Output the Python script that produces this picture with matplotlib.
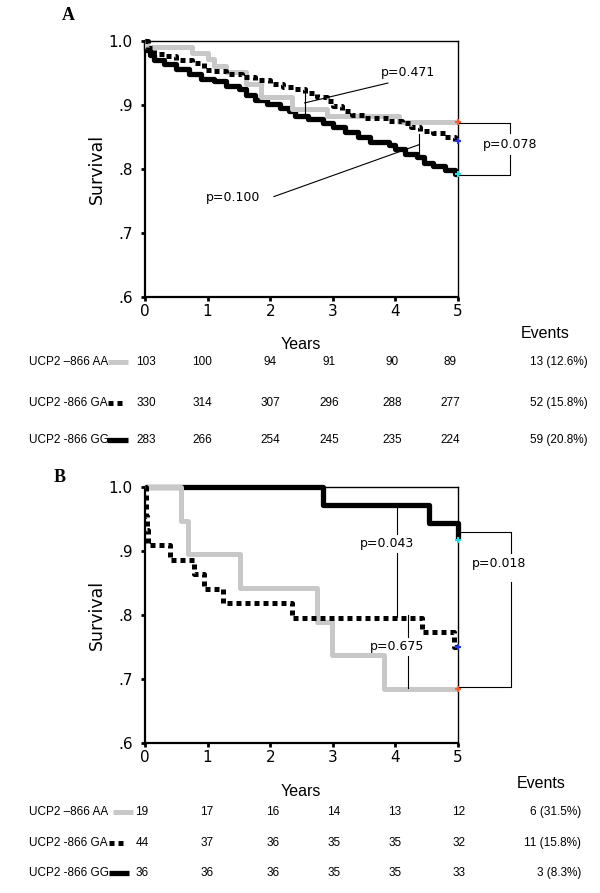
import matplotlib.pyplot as plt
from matplotlib.lines import Line2D

# ---- data ----
years = [0, 1, 2, 3, 4, 5]
groups = ['UCP2 \u2013866 AA', 'UCP2 -866 GA', 'UCP2 -866 GG']

# panel A: Kaplan-Meier steps (time in years, survival)
a_aa_t = [0, 0.03, 0.75, 1.0, 1.1, 1.3, 1.62, 1.86, 2.35, 2.9, 4.05, 5.0]
a_aa_s = [1.0, 0.990, 0.981, 0.971, 0.961, 0.951, 0.932, 0.912, 0.893, 0.883, 0.874, 0.874]
a_ga_t = [0, 0.05, 0.15, 0.3, 0.5, 0.75, 0.95, 1.05, 1.3, 1.55, 1.75, 2.0, 2.2, 2.4, 2.55,
          2.75, 2.9, 3.0, 3.15, 3.3, 3.5, 3.9, 4.1, 4.25, 4.4, 4.6, 4.8, 4.95, 5.0]
a_ga_s = [1.0, 0.988, 0.980, 0.976, 0.970, 0.965, 0.955, 0.952, 0.948, 0.943, 0.939, 0.933, 0.928,
          0.924, 0.918, 0.912, 0.906, 0.898, 0.890, 0.884, 0.879, 0.875, 0.872, 0.866, 0.860,
          0.856, 0.850, 0.843, 0.843]
a_gg_t = [0, 0.02, 0.08, 0.15, 0.3, 0.5, 0.7, 0.9, 1.1, 1.3, 1.5, 1.62, 1.75, 1.95, 2.15, 2.3,
          2.4, 2.6, 2.85, 3.0, 3.2, 3.4, 3.6, 3.9, 4.0, 4.15, 4.35, 4.45, 4.6, 4.8, 4.95, 5.0]
a_gg_s = [1.0, 0.986, 0.978, 0.970, 0.963, 0.956, 0.948, 0.941, 0.937, 0.930, 0.925, 0.915,
          0.908, 0.902, 0.895, 0.890, 0.882, 0.878, 0.872, 0.866, 0.858, 0.850, 0.842, 0.838,
          0.831, 0.824, 0.818, 0.810, 0.804, 0.798, 0.792, 0.792]
a_risk = [[103, 100, 94, 91, 90, 89],
          [330, 314, 307, 296, 288, 277],
          [283, 266, 254, 245, 235, 224]]
a_events = ['13 (12.6%)', '52 (15.8%)', '59 (20.8%)']

# panel B
b_aa_t = [0, 0.58, 0.68, 1.52, 2.74, 2.99, 3.81, 5.0]
b_aa_s = [1.0, 0.947, 0.895, 0.842, 0.789, 0.737, 0.684, 0.684]
b_ga_t = [0, 0.01, 0.02, 0.03, 0.05, 0.4, 0.79, 0.95, 1.25, 2.35, 4.42, 4.94, 5.0]
b_ga_s = [1.0, 0.977, 0.955, 0.932, 0.909, 0.886, 0.864, 0.841, 0.818, 0.795, 0.773, 0.750, 0.750]
b_gg_t = [0, 2.84, 4.53, 5.0]
b_gg_s = [1.0, 0.972, 0.944, 0.917]
b_risk = [[19, 17, 16, 14, 13, 12],
          [44, 37, 36, 35, 35, 32],
          [36, 36, 36, 35, 35, 33]]
b_events = ['6 (31.5%)', '11 (15.8%)', '3 (8.3%)']

W, H = 600, 893
fig = plt.figure(figsize=(W / 100, H / 100), dpi=100)


def fx(px):
    return px / W


def fy(py):
    return 1 - py / H


GRAY = '#c8c8c8'
styles = [dict(color=GRAY, lw=3.6, solid_capstyle='butt'),
          dict(color='black', lw=3.6, linestyle=(0, (1.0, 0.8)), dash_capstyle='butt'),
          dict(color='black', lw=3.8, solid_capstyle='butt')]
cens_colors = ['#ff5a28', '#2233ff', '#22dddd']


def panel(top_px, curves, letter, letter_xy):
    ax = fig.add_axes([fx(145), fy(top_px + 256.6), fx(313), 256.6 / H])
    ax.set_xlim(0, 5)
    ax.set_ylim(0.6, 1.0)
    # draw order: GG under AA under GA
    for i in [2, 0, 1]:
        t, s = curves[i]
        ax.plot(t, s, drawstyle='steps-post', clip_on=False, zorder=3, **styles[i])
        ax.plot([5], [s[-1]], marker='+', ms=4, mew=1.5, color=cens_colors[i],
                clip_on=False, zorder=5)
    ax.set_xticks(years)
    ax.set_yticks([0.6, 0.7, 0.8, 0.9, 1.0])
    ax.set_yticklabels(['.6', '.7', '.8', '.9', '1.0'])
    ax.tick_params(direction='out', length=3, width=2, labelsize=11, pad=2)
    ax.tick_params(axis='y', pad=6)
    for sp in ['left', 'bottom']:
        ax.spines[sp].set_linewidth(1.6)
    for sp in ['top', 'right']:
        ax.spines[sp].set_linewidth(1.0)
    ax.set_ylabel('Survival', fontsize=12.5, labelpad=2)
    fig.text(fx(letter_xy[0]), fy(letter_xy[1]), letter, fontsize=13, fontweight='bold',
             family='Liberation Serif', ha='center', va='center')
    return ax


def seg(ax, xs, ys):
    ax.plot(xs, ys, color='black', lw=0.8, clip_on=False, zorder=4)


def table(rows_y, col_x, ev_right, risk, events, years_xy, events_xy, sw):
    tk = dict(family='Liberation Sans', fontsize=8.5, va='center')
    fig.text(fx(years_xy[0]), fy(years_xy[1]), 'Years', family='Liberation Sans',
             fontsize=11.5, ha='center', va='center')
    fig.text(fx(events_xy[0]), fy(events_xy[1]), 'Events', family='Liberation Sans',
             fontsize=11.5, ha='center', va='center')
    for i, y in enumerate(rows_y):
        fig.text(fx(29), fy(y), groups[i], ha='left', **tk)
        x0, x1 = sw[i]
        st = dict(styles[i])
        fig.add_artist(Line2D([fx(x0), fx(x1)], [fy(y), fy(y)], transform=fig.transFigure, **st))
        for j, v in enumerate(risk[i]):
            fig.text(fx(col_x[j]), fy(y), str(v), ha='center', **tk)
        fig.text(fx(ev_right), fy(y), events[i], ha='right', **tk)


# ---- panel A ----
axa = panel(40.7, [(a_aa_t, a_aa_s), (a_ga_t, a_ga_s), (a_gg_t, a_gg_s)], 'A', (68, 15))
tx = dict(fontsize=9, ha='center', va='center', family='DejaVu Sans')
axa.text(4.2, 0.951, 'p=0.471', **tx)
seg(axa, [2.55, 2.55], [0.92, 0.887])
seg(axa, [2.55, 3.88], [0.903, 0.934])
axa.text(1.41, 0.755, 'p=0.100', **tx)
seg(axa, [4.38, 4.38], [0.855, 0.822])
seg(axa, [2.06, 4.38], [0.757, 0.838])
axa.text(5.84, 0.838, 'p=0.078', **tx)
seg(axa, [5.0, 5.83, 5.83], [0.871, 0.871, 0.856])
seg(axa, [5.0, 5.83, 5.83], [0.791, 0.791, 0.822])

table([362, 403, 440], [146, 202, 270, 329, 392, 450], 588, a_risk, a_events,
      (301, 345), (545, 333), [(108, 128), (108, 125), (107, 128)])

# ---- panel B ----
axb = panel(486.7, [(b_aa_t, b_aa_s), (b_ga_t, b_ga_s), (b_gg_t, b_gg_s)], 'B', (60, 478))
axb.text(3.87, 0.912, 'p=0.043', **tx)
seg(axb, [4.03, 4.03], [0.969, 0.927])
seg(axb, [4.03, 4.03], [0.897, 0.797])
axb.text(4.03, 0.751, 'p=0.675', **tx)
seg(axb, [4.2, 4.2], [0.80, 0.766])
seg(axb, [4.2, 4.2], [0.736, 0.686])
axb.text(5.65, 0.881, 'p=0.018', **tx)
seg(axb, [5.0, 5.84, 5.84], [0.930, 0.930, 0.897])
seg(axb, [5.0, 5.84, 5.84], [0.688, 0.688, 0.851])

table([812, 843, 873], [142, 207, 273, 334, 395, 459], 581, b_risk, b_events,
      (301, 792), (541, 783), [(113, 133), (109, 125), (109, 129)])

fig.savefig('out.png', dpi=100)
